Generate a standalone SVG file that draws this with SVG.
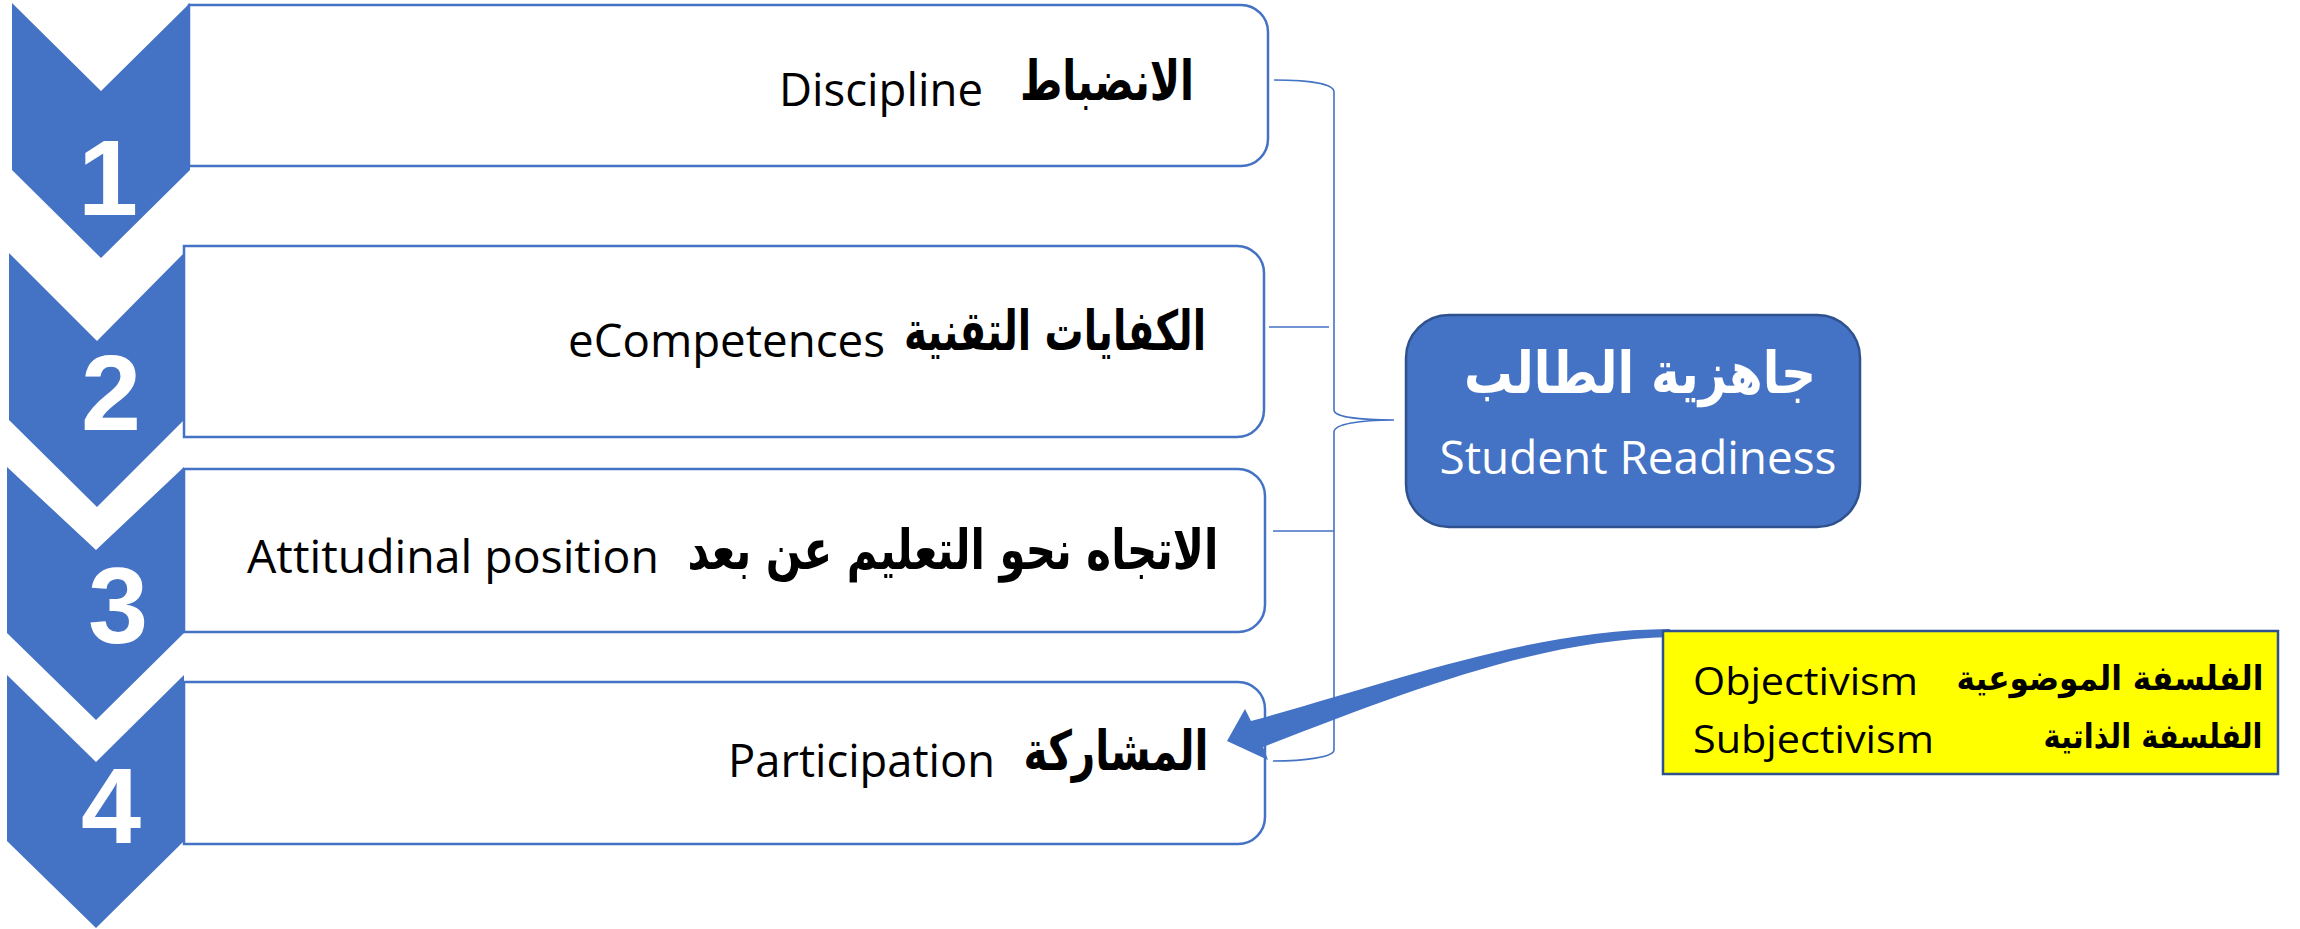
<svg xmlns="http://www.w3.org/2000/svg" width="2300" height="929" viewBox="0 0 2300 929">
<style>
.chev{fill:#4472C4;}
.num{font-family:"Liberation Sans",Arial,sans-serif;font-weight:bold;font-size:108px;fill:#fff;text-anchor:middle;}
.box{fill:#fff;stroke:#4472C4;stroke-width:2.5;}
.ar{font-family:"DejaVu Sans",sans-serif;font-weight:bold;fill:#000;text-anchor:middle;}
.en{font-family:"Open Sans","Liberation Sans",sans-serif;fill:#000;}
.brace{fill:none;stroke:#4472C4;stroke-width:1.6;}
</style>
<rect width="2300" height="929" fill="#fff"/>

<g id="item1">
<polygon class="chev" points="12,3 101,91 190,3 190,170 101,258 12,170"/>
<text class="num" x="108" y="215">1</text>
<path class="box" d="M189,5 H1241 A27,27 0 0 1 1268,32 V139 A27,27 0 0 1 1241,166 H189 Z"/>
<text class="en" x="779" y="106" font-size="46" textLength="204" lengthAdjust="spacingAndGlyphs">Discipline</text>
<text class="ar" x="1107" y="100" font-size="55" textLength="174" lengthAdjust="spacingAndGlyphs">الانضباط</text>
</g>

<g id="item2">
<polygon class="chev" points="9,253 97,341 184,253 184,420 97,507 9,420"/>
<text class="num" x="111" y="430">2</text>
<path class="box" d="M184,246 H1237 A27,27 0 0 1 1264,273 V410 A27,27 0 0 1 1237,437 H184 Z"/>
<text class="en" x="568" y="357" font-size="46" textLength="317" lengthAdjust="spacingAndGlyphs">eCompetences</text>
<text class="ar" x="1055" y="350" font-size="55" textLength="302" lengthAdjust="spacingAndGlyphs">الكفايات التقنية</text>
</g>

<g id="item3">
<polygon class="chev" points="7,467 96,550 184,467 184,633 96,720 7,633"/>
<text class="num" x="118" y="643">3</text>
<path class="box" d="M184,469 H1238 A27,27 0 0 1 1265,496 V605 A27,27 0 0 1 1238,632 H184 Z"/>
<text class="en" x="247" y="573" font-size="46" textLength="412" lengthAdjust="spacingAndGlyphs">Attitudinal position</text>
<text class="ar" x="953" y="569" font-size="55" textLength="531" lengthAdjust="spacingAndGlyphs">الاتجاه نحو التعليم عن بعد</text>
</g>

<g id="item4">
<polygon class="chev" points="7,675 96,762 184,675 184,841 96,928 7,841"/>
<text class="num" x="111" y="843">4</text>
<path class="box" d="M184,682 H1238 A27,27 0 0 1 1265,709 V817 A27,27 0 0 1 1238,844 H184 Z"/>
<text class="en" x="728" y="777" font-size="46" textLength="267" lengthAdjust="spacingAndGlyphs">Participation</text>
<text class="ar" x="1116" y="770" font-size="55" textLength="185" lengthAdjust="spacingAndGlyphs">المشاركة</text>
</g>

<g id="readiness">
<rect x="1406" y="315" width="454" height="212" rx="43" ry="43" fill="#4472C4" stroke="#2F528F" stroke-width="2.5"/>
<text class="ar" x="1640" y="393" font-size="58" style="fill:#fff" textLength="352" lengthAdjust="spacingAndGlyphs">جاهزية الطالب</text>
<text x="1638" y="474" text-anchor="middle" font-family="'Open Sans','Liberation Sans',sans-serif" font-size="45" fill="#fff" textLength="397" lengthAdjust="spacingAndGlyphs">Student Readiness</text>
</g>

<g id="connectors">
<path d="M1251,721 C1400,680 1530,630 1670,629 L1670,637 C1540,640 1410,690 1263,747 L1268,760 L1227,741 L1245,709 Z" fill="#4472C4"/>
<path class="brace" d="M1274,80 C1310,80 1334,84 1334,92 L1334,410 C1334,417 1360,420 1394,420 C1360,420 1334,424 1334,432 L1334,750 C1334,757 1305,761 1273,761"/>
<path class="brace" d="M1269,327 H1329 M1273,531 H1334"/>
</g>

<g id="philosophy">
<rect x="1663" y="631" width="615" height="143" fill="#FFFF00" stroke="#2F528F" stroke-width="2.5"/>
<text class="en" x="1693" y="695" font-size="39" textLength="225" lengthAdjust="spacingAndGlyphs">Objectivism</text>
<text class="ar" x="2110" y="690" font-size="34" textLength="307" lengthAdjust="spacingAndGlyphs">الفلسفة الموضوعية</text>
<text class="en" x="1693" y="753" font-size="39" textLength="241" lengthAdjust="spacingAndGlyphs">Subjectivism</text>
<text class="ar" x="2153" y="748" font-size="34" textLength="219" lengthAdjust="spacingAndGlyphs">الفلسفة الذاتية</text>
</g>
</svg>
